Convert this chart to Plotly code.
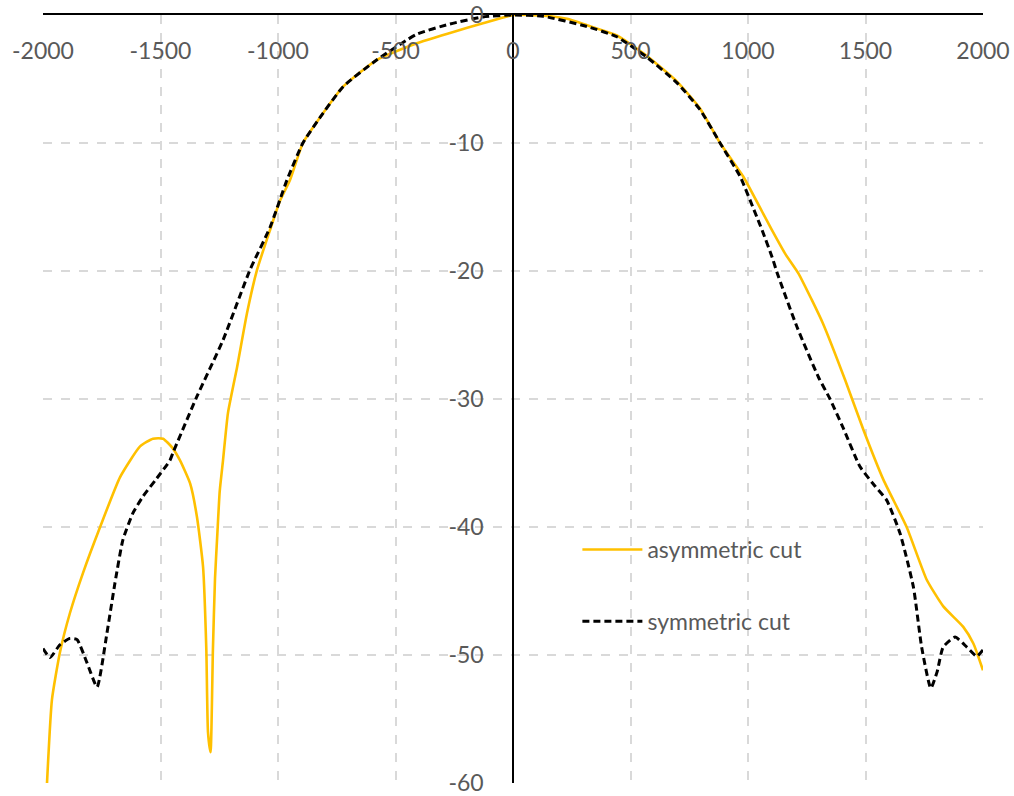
import plotly.graph_objects as go

# asymmetric cut (orange, solid)
asym_x = [-1983, -1962, -1928, -1885, -1830, -1757, -1672, -1587, -1532, -1489, -1450, -1417,
          -1374, -1345, -1319, -1305, -1298, -1287, -1277, -1268, -1258, -1248, -1234, -1213,
          -1174, -1132, -1089, -1034, -991, -949, -894, -821, -723, -579, -409, -268, -128, 0,
          130, 230, 315, 442, 570, 698, 796, 881, 979, 1064, 1102, 1160, 1215, 1270, 1319, 1413,
          1491, 1576, 1675, 1760, 1831, 1916, 1959, 2000]
asym_y = [-60, -53.5, -49.8, -46.7, -43.6, -40, -36.1, -33.7, -33.1, -33.1, -33.8, -34.8,
          -36.6, -39.2, -43.1, -49.6, -56, -57.6, -49.6, -44, -40.5, -37.2, -34.8, -31.1,
          -27.5, -23.3, -19.9, -16.8, -14.5, -12.9, -10, -8, -5.6, -3.5, -2.2, -1.4, -0.65, 0,
          -0.05, -0.3, -0.8, -1.6, -3.2, -5.2, -7.3, -10, -12.6, -15.5, -16.8, -18.7, -20.2, -22.2, -24.1, -28.5,
          -32.4, -36.3, -40, -44.1, -46.2, -47.8, -49.1, -51.2]

# symmetric cut (black, dashed)
sym_x = [-2000, -1970, -1928, -1885, -1855, -1813, -1770, -1728, -1694, -1660, -1617, -1574,
         -1520, -1460, -1447, -1345, -1234, -1119, -1034, -962, -894, -821, -723, -579, -409,
         -268, -128, 0, 128, 315, 442, 570, 698, 796, 881, 966, 1038, 1060, 1106, 1123, 1209,
         1300, 1349, 1406, 1477, 1540, 1590, 1647, 1704, 1739, 1778, 1805, 1830, 1881, 1932, 1973, 2000]
sym_y = [-49.5, -50.2, -49.2, -48.7, -48.8, -50.6, -52.5, -48.3, -44.4, -41, -38.9, -37.6,
         -36.3, -34.8, -34.2, -29.8, -25.4, -19.9, -16.6, -12.9, -10, -8, -5.6, -3.5, -1.5,
         -0.7, -0.15, 0, -0.1, -0.9, -1.7, -3.3, -5.3, -7.4, -10, -12.6, -15.8, -16.8, -19.1, -20.1, -24.4,
         -28.3, -30, -32.3, -35.3, -36.8, -37.9, -40.5, -44.7, -49.4, -52.6, -51.3, -49.4, -48.6, -49.4, -50.1, -49.6]

x_ticks = [-2000, -1500, -1000, -500, 0, 500, 1000, 1500, 2000]
x_labels = ["-2000", "-1500", "-1000", "-500", "0", "500", "1000", "1500", "2000"]
y_ticks = [0, -10, -20, -30, -40, -50, -60]
y_labels = ["0", "-10", "-20", "-30", "-40", "-50", "-60"]

FONT = "Lato"
GRAY = "#595959"

fig = go.Figure()
fig.add_trace(go.Scatter(x=asym_x, y=asym_y, mode="lines", name="asymmetric cut",
                         legendgroup="a",
                         line=dict(color="#FFC000", width=2.6, shape="spline", smoothing=0.5)))
fig.add_trace(go.Scatter(x=sym_x, y=sym_y, mode="lines", name="symmetric cut",
                         legendgroup="b",
                         line=dict(color="#000000", width=3, dash="7px,4px", shape="spline", smoothing=0.5)))

fig.update_layout(
    width=1014, height=796,
    margin=dict(l=43, r=31, t=15, b=13),
    paper_bgcolor="white", plot_bgcolor="white",
    font=dict(family=FONT, size=23, color=GRAY),
    showlegend=True,
    legend=dict(x=0.5685, y=0.332, xanchor="left", yanchor="top",
                bgcolor="rgba(0,0,0,0)", borderwidth=0,
                font=dict(family=FONT, size=23, color=GRAY),
                tracegroupgap=39, itemwidth=60),
    xaxis=dict(range=[-2000, 2000], tickvals=x_ticks, ticktext=x_labels, side="top",
               ticklabelposition="inside", ticklabelstandoff=30, ticklabeloverflow="allow",
               automargin=False,
               showline=True, linecolor="black", linewidth=2,
               showgrid=True, gridcolor="#D9D9D9", griddash="dash", gridwidth=1.5,
               zeroline=False, ticks="", tickfont=dict(family=FONT, size=23, color=GRAY)),
    yaxis=dict(range=[-60, 0], tickvals=y_ticks, ticktext=y_labels, anchor="free", position=0.5,
               automargin=False, ticklabeloverflow="allow",
               showline=True, linecolor="black", linewidth=1.5,
               showgrid=True, gridcolor="#D9D9D9", griddash="dash", gridwidth=1.5,
               zeroline=False, ticks="", ticklabelstandoff=24,
               tickfont=dict(family=FONT, size=23, color=GRAY)),
)

fig.write_html("out.html", config={"displayModeBar": False},
               post_script="document.body.style.margin='0';")
